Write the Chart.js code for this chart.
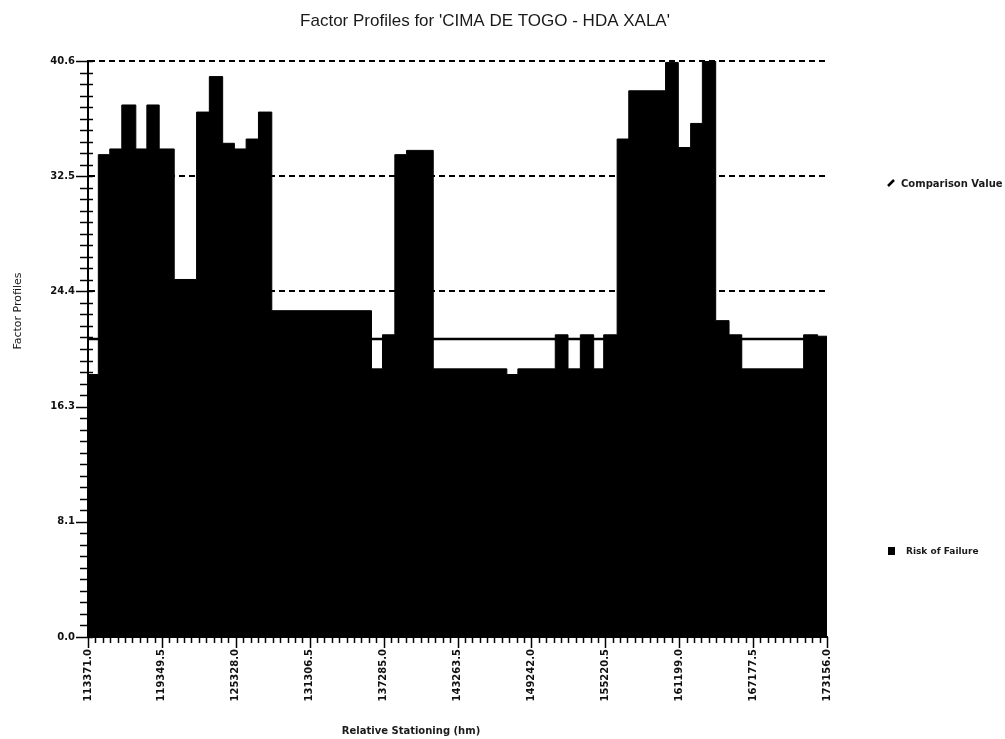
<!DOCTYPE html>
<html>
<head>
<meta charset="utf-8">
<title>Factor Profiles</title>
<script src="https://cdn.jsdelivr.net/npm/chart.js@4.4.1/dist/chart.umd.min.js"></script>
<style>
  html, body { margin: 0; padding: 0; background: #fff; }
  #wrap { width: 1005px; height: 739px; position: relative; }
</style>
</head>
<body>
<div id="wrap"><canvas id="chart"></canvas></div>
<script>
// stationing where each profile step begins (hm)
const segmentStarts = [
  113371, 114206, 115131, 116105, 117240, 118133, 119131, 120347, 122156, 123187,
  124265, 125215, 126164, 127161, 128240, 136304, 137196, 138194, 139143, 141301,
  147255, 148147, 151173, 152203, 153201, 154280, 155091, 156178, 157119, 160096,
  161126, 162124, 163073, 164152, 165231, 166261, 171266, 172402
];
const endStation = 173156;

// risk of failure for each step
const riskValues = [
  18.5, 34.0, 34.4, 37.5, 34.4, 37.5, 34.4, 25.2, 37.0, 39.5,
  34.8, 34.4, 35.1, 37.0, 23.0, 18.9, 21.3, 34.0, 34.3, 18.9,
  18.5, 18.9, 21.3, 18.9, 21.3, 18.9, 21.3, 35.1, 38.5, 40.5,
  34.5, 36.2, 40.6, 22.3, 21.3, 18.9, 21.3, 21.2
];

const comparisonValue = 21.0;

const xTickLabels = [
  "113371.0", "119349.5", "125328.0", "131306.5", "137285.0", "143263.5",
  "149242.0", "155220.5", "161199.0", "167177.5", "173156.0"
];
const yTickLabels = ["0.0", "8.1", "16.3", "24.4", "32.5", "40.6"];

const xMin = 113371, xMax = 173156, xStep = 5978.5;
const yMin = 0, yMax = 40.6, yStep = 8.12;

const riskPoints = segmentStarts.map((s, i) => ({ x: s, y: riskValues[i] }));
riskPoints.push({ x: endStation, y: riskValues[riskValues.length - 1] });

// minor ticks, text and legend are drawn by hand
const decorPlugin = {
  id: "decor",
  afterDraw(chart) {
    const { ctx, chartArea } = chart;
    const x = chart.scales.x, y = chart.scales.y;
    ctx.save();
    ctx.strokeStyle = "#000";
    ctx.lineWidth = 1.5;

    // y axis ticks (10 minor per major)
    for (let k = 0; k <= 50; k++) {
      const py = Math.round(y.getPixelForValue(k * yStep / 10)) + 0.5;
      const major = k % 10 === 0;
      ctx.beginPath();
      ctx.moveTo(chartArea.left - (major ? 12 : 8), py);
      ctx.lineTo(chartArea.left + 5, py);
      ctx.stroke();
    }
    // x axis ticks
    for (let k = 0; k <= 100; k++) {
      const px = Math.round(x.getPixelForValue(xMin + k * xStep / 10)) + 0.5;
      const major = k % 10 === 0;
      ctx.beginPath();
      ctx.moveTo(px, chartArea.bottom);
      ctx.lineTo(px, chartArea.bottom + (major ? 11 : 6));
      ctx.stroke();
    }

    ctx.fillStyle = "#1a1a1a";
    // main title
    ctx.font = '17px "Liberation Sans", Arial, sans-serif';
    ctx.textAlign = "center";
    ctx.textBaseline = "middle";
    ctx.fillText("Factor Profiles for 'CIMA DE TOGO - HDA XALA'", 485, 21);

    // axis titles
    ctx.font = 'bold 10px "DejaVu Sans", sans-serif';
    ctx.fillText("Relative Stationing (hm)", 411, 731);

    ctx.save();
    ctx.translate(18, 311);
    ctx.rotate(-Math.PI / 2);
    ctx.font = '11px "DejaVu Sans", sans-serif';
    ctx.fillText("Factor Profiles", 0, 0);
    ctx.restore();

    // legend
    ctx.textAlign = "left";
    ctx.lineWidth = 2.5;
    ctx.beginPath();
    ctx.moveTo(888, 186);
    ctx.lineTo(894, 180);
    ctx.stroke();
    ctx.font = 'bold 10px "DejaVu Sans", sans-serif';
    ctx.fillText("Comparison Value", 901, 184);

    ctx.fillStyle = "#000";
    ctx.fillRect(888, 547, 7, 8);
    ctx.fillStyle = "#1a1a1a";
    ctx.font = 'bold 9px "DejaVu Sans", sans-serif';
    ctx.fillText("Risk of Failure", 906, 552);

    ctx.restore();
  }
};

new Chart(document.getElementById("chart"), {
  type: "line",
  data: {
    datasets: [
      {
        label: "Comparison Value",
        data: [{ x: xMin, y: comparisonValue }, { x: xMax, y: comparisonValue }],
        borderColor: "#000",
        borderWidth: 2.5,
        pointRadius: 0,
        fill: false,
        order: 0
      },
      {
        label: "Risk of Failure",
        data: riskPoints,
        stepped: true,
        borderColor: "#000",
        borderWidth: 1,
        backgroundColor: "#000",
        pointRadius: 0,
        fill: "origin",
        order: 1
      }
    ]
  },
  options: {
    responsive: true,
    maintainAspectRatio: false,
    animation: false,
    events: [],
    layout: { padding: { top: 61, right: 178, bottom: 0, left: 0 } },
    plugins: {
      legend: { display: false },
      title: { display: false },
      tooltip: { enabled: false }
    },
    scales: {
      x: {
        type: "linear",
        min: xMin,
        max: xMax,
        afterFit(scale) { scale.height = 102; },
        grid: { display: false, drawTicks: false },
        border: { display: true, color: "#000", width: 2 },
        ticks: {
          stepSize: xStep,
          autoSkip: false,
          minRotation: 90,
          maxRotation: 90,
          padding: 12,
          color: "#111",
          font: { family: "DejaVu Sans", size: 10, weight: "bold" },
          callback: (v, i) => xTickLabels[i]
        }
      },
      y: {
        min: yMin,
        max: yMax,
        afterFit(scale) { scale.width = 88; },
        grid: {
          color: "#000",
          lineWidth: 2,
          drawTicks: false
        },
        border: { display: true, color: "#000", width: 2, dash: [6, 4] },
        ticks: {
          stepSize: yStep,
          padding: 13,
          color: "#111",
          font: { family: "DejaVu Sans", size: 10, weight: "bold" },
          callback: (v, i) => yTickLabels[i]
        }
      }
    }
  },
  plugins: [decorPlugin]
});
</script>
</body>
</html>
